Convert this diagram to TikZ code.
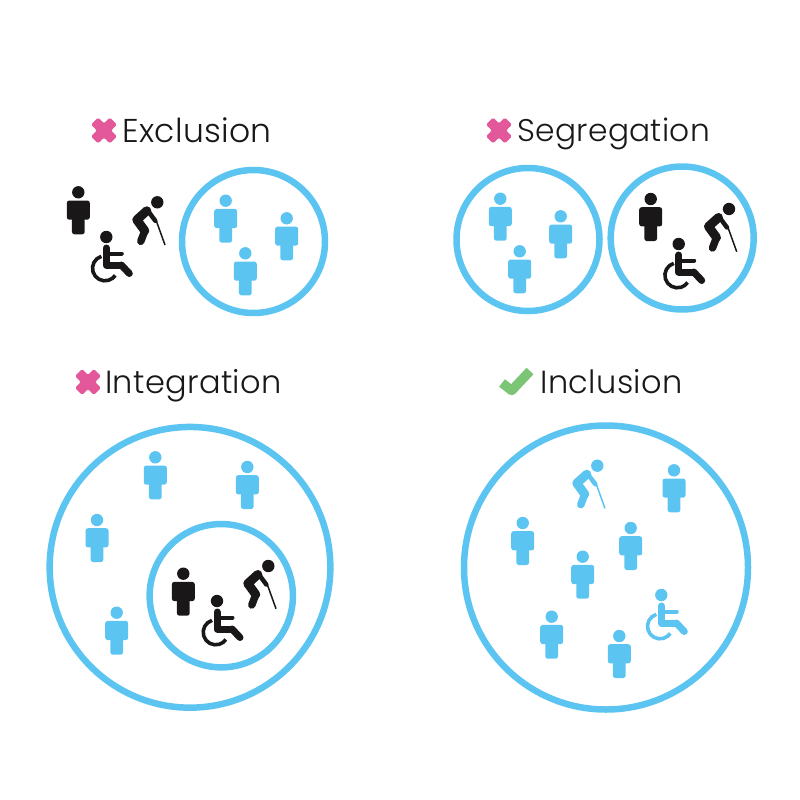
\documentclass[tikz,border=0pt]{standalone}
\usepackage{fontspec}
\setmainfont{Poppins Light}[LetterSpace=1]
\usetikzlibrary{shapes,arrows}
\definecolor{skyblue}{HTML}{5BC4F1}
\definecolor{figblack}{HTML}{1A1718}
\definecolor{crosspink}{HTML}{E2589A}
\definecolor{tickgreen}{HTML}{7CC576}
\tikzstyle{ring} = [circle, draw=skyblue, line width=6.5pt, inner sep=0pt]
\tikzstyle{title} = [anchor=base west, inner sep=0pt, text=figblack, font=\fontsize{32}{32}\selectfont]
\tikzset{
	person/.pic={
		\fill (0,0) circle (6.2);
		\fill[rounded corners=2.5pt] (-11.5,8.2) rectangle (11.5,27.4);
		\fill[rounded corners=2.5pt] (-6.4,20) rectangle (6.4,42);
	},
	oldman/.pic={
		\fill (0,0) circle (6.2);
		\draw[line width=9pt, line cap=round, line join=round] (-10.5,8.5) -- (-20.5,17.5) -- (-12.5,28.5);
		\draw[line width=7.5pt, line cap=round, line join=round] (-12.5,28.5) -- (-16.5,39);
		\draw[line width=4.5pt, line cap=round, line join=round] (-10.5,7) -- (-2,18.5);
		\draw[line width=1.5pt] (-1,18.5) -- (7.7,42.7);
	},
	wheelchair/.pic={
		\fill (0,0) circle (6.2);
		\draw[line width=7pt, line cap=round, line join=round] (0,11) -- (0,28) -- (15,28);
		\draw[line width=7pt, line cap=round, line join=round] (15,28) -- (23,36.5);
		\draw[line width=4pt, line cap=round] (0,16.5) -- (15.5,16.5);
		\draw[line width=3.6pt] (-1.3,31.3) ++(253:12.5) arc (253:35:12.5);
	},
	crossmark/.pic={
		\fill[rotate=45, rounded corners=1.5pt] (-5,-13.3) -- (5,-13.3) -- (5,-5) -- (13.3,-5) -- (13.3,5) -- (5,5) -- (5,13.3) -- (-5,13.3) -- (-5,5) -- (-13.3,5) -- (-13.3,-5) -- (-5,-5) -- cycle;
	},
	tickmark/.pic={
		\draw[line width=9.5pt, line join=round] (-13,-1) -- (-3.3,6.5) -- (15,-13);
	}
}
\begin{document}
\begin{tikzpicture}[x=1pt, y=-1pt]
	\useasboundingbox (0,0) rectangle (800,800);
	% exclusion
	\pic[crosspink] at (104,130.5) {crossmark};
	\node[title, font=\fontsize{33}{33}\selectfont] (exclusion) at (122,142.2) {Exclusion};
	\node[ring, minimum size=143pt] (excl) at (253.5,241.5) {};
	\pic[figblack] at (78.3,192.3) {person};
	\pic[figblack] at (157.3,202.3) {oldman};
	\pic[figblack] at (106.3,237) {wheelchair};
	\pic[skyblue] at (225.7,200.7) {person};
	\pic[skyblue] at (286.7,218.3) {person};
	\pic[skyblue] at (245.3,253.3) {person};
	% segregation
	\pic[crosspink] at (499,130.5) {crossmark};
	\node[title, font=\fontsize{31.3}{31.3}\selectfont] (segregation) at (517,141.7) {Segregation};
	\node[ring, minimum size=143pt] (segl) at (528,239.5) {};
	\node[ring, minimum size=143pt] (segr) at (682.2,238) {};
	\pic[skyblue] at (500.3,198.7) {person};
	\pic[skyblue] at (560.7,216.3) {person};
	\pic[skyblue] at (519.7,251.3) {person};
	\pic[figblack] at (650.7,199) {person};
	\pic[figblack] at (729,209) {oldman};
	\pic[figblack] at (678.7,244) {wheelchair};
	% integration
	\pic[crosspink] at (88,382) {crossmark};
	\node[title] (integration) at (105,393) {Integration};
	\node[ring, minimum size=280.7pt] (intouter) at (190,567.3) {};
	\node[ring, minimum size=143.3pt] (intinner) at (221.3,595.7) {};
	\pic[skyblue] at (155.3,457.3) {person};
	\pic[skyblue] at (247.3,467) {person};
	\pic[skyblue] at (97,520) {person};
	\pic[skyblue] at (116.7,612.7) {person};
	\pic[figblack] at (183.3,573.7) {person};
	\pic[figblack] at (268.3,566) {oldman};
	\pic[figblack] at (217,601) {wheelchair};
	% inclusion
	\pic[tickgreen] at (515,384) {tickmark};
	\node[title] (inclusion) at (540.5,393) {Inclusion};
	\node[ring, minimum size=284pt] (incl) at (606,567.5) {};
	\pic[skyblue] at (597.3,465.7) {oldman};
	\pic[skyblue] at (674,470.3) {person};
	\pic[skyblue] at (630.7,528) {person};
	\pic[skyblue] at (582.7,556.7) {person};
	\pic[skyblue] at (522.7,523) {person};
	\pic[skyblue] at (551.7,616.7) {person};
	\pic[skyblue] at (619.3,636) {person};
	\pic[skyblue] at (661.3,595) {wheelchair};
\end{tikzpicture}
\end{document}
